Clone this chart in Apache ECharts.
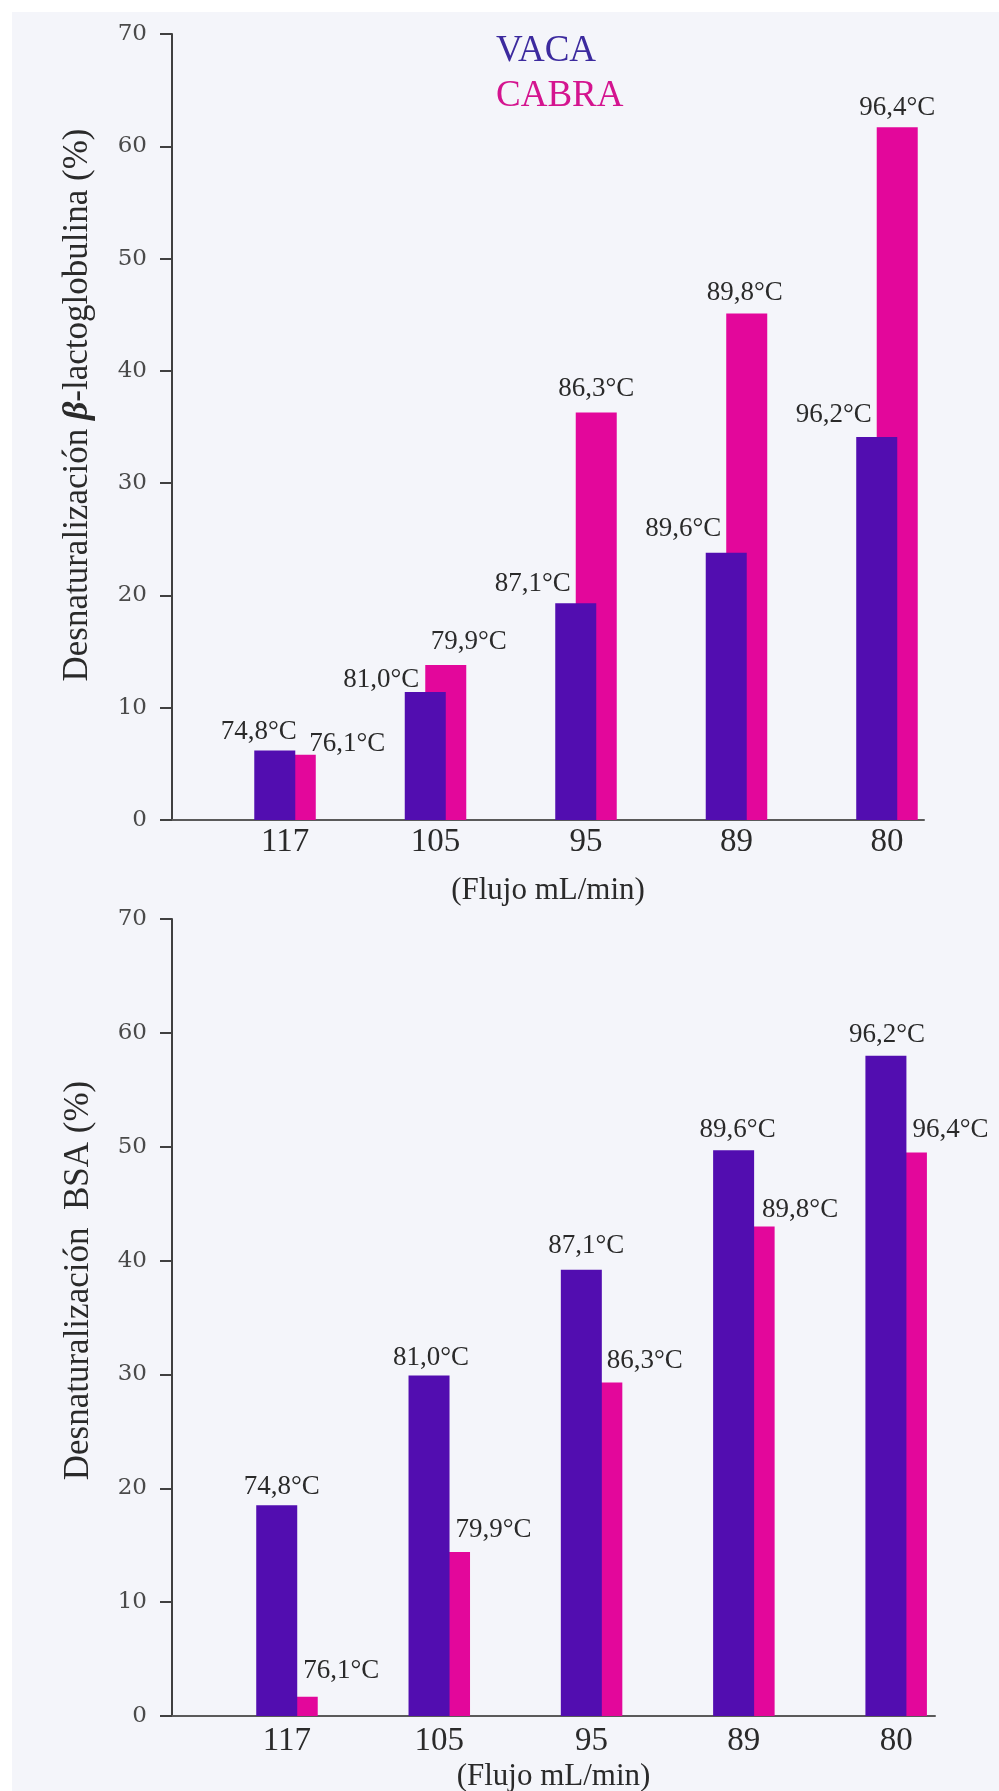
<!DOCTYPE html>
<html>
<head>
<meta charset="utf-8">
<script src="https://cdn.jsdelivr.net/npm/echarts@6/dist/echarts.min.js"></script>
<style>
  html, body { margin: 0; padding: 0; background: #ffffff; }
  #scan { position: absolute; left: 12px; top: 12px; width: 987px; height: 1779px; background: #f4f5fa; }
  #chart { position: absolute; left: 0; top: 0; width: 999px; height: 1791px; }
</style>
</head>
<body>
<div id="scan"></div>
<div id="chart"></div>
<script>
// ---- data ----
const flujo = ['117', '105', '95', '89', '80'];
const seriesNames = ['VACA', 'CABRA'];

// Desnaturalización β-lactoglobulina (%)
const vacaBLG = [6.2, 11.4, 19.3, 23.8, 34.1];
const cabraBLG = [5.8, 13.8, 36.3, 45.1, 61.7];
const tempVacaBLG = ['74,8°C', '81,0°C', '87,1°C', '89,6°C', '96,2°C'];
const tempCabraBLG = ['76,1°C', '79,9°C', '86,3°C', '89,8°C', '96,4°C'];

// Desnaturalización BSA (%)
const vacaBSA = [18.5, 29.9, 39.2, 49.7, 58.0];
const cabraBSA = [1.7, 14.4, 29.3, 43.0, 49.5];
const tempVacaBSA = ['74,8°C', '81,0°C', '87,1°C', '89,6°C', '96,2°C'];
const tempCabraBSA = ['76,1°C', '79,9°C', '86,3°C', '89,8°C', '96,4°C'];

// ---- label placement nudges (style only) ----
const nudgeVacaBLG = [[-16, 0], [-44, 6], [-43, -1], [-43, -5], [-43, -4]];
const nudgeCabraBLG = [[52, 8], [23, -5], [0, -5], [-2, -2], [0, -1]];
const nudgeVacaBSA = [[5, 0], [2, 1], [5, -5], [4, -2], [1, -2]];
const nudgeCabraBSA = [[44, -7], [44, -4], [43, -3], [46, 2], [44, -4]];

const VACA_COLOR = '#520db0';
const CABRA_COLOR = '#e3079b';
const SERIF = '"Liberation Serif", "Times New Roman", serif';
const TICKFONT = '"DejaVu Serif", serif';

function barData(values, temps, nudges) {
  return values.map((v, i) => ({
    value: [i, v],
    label: { formatter: temps[i], offset: nudges[i] }
  }));
}

function barSeries(name, color, z, gridIdx, values, temps, nudges) {
  return {
    name: name,
    type: 'bar',
    xAxisIndex: gridIdx,
    yAxisIndex: gridIdx,
    barWidth: 41,
    barGap: '-50%',
    z: z,
    itemStyle: { color: color },
    label: {
      show: true,
      position: 'top',
      distance: 5,
      color: '#2a2a2a',
      fontFamily: SERIF,
      fontSize: 27
    },
    data: barData(values, temps, nudges)
  };
}

function xAxisCfg(gridIdx, min, max, labelMargin, nameGap) {
  return {
    type: 'value',
    gridIndex: gridIdx,
    min: min,
    max: max,
    name: '(Flujo mL/min)',
    nameLocation: 'middle',
    nameGap: nameGap,
    nameTextStyle: { fontFamily: SERIF, fontSize: 31, color: '#2a2a2a' },
    axisLine: { show: true, onZero: false, lineStyle: { color: '#5a5a5a', width: 2 } },
    axisTick: { show: false },
    splitLine: { show: false },
    axisLabel: {
      customValues: flujo.map((_, i) => i),
      formatter: (v) => flujo[Math.round(v)] ?? '',
      fontFamily: SERIF,
      fontSize: 33,
      color: '#2a2a2a',
      margin: labelMargin
    }
  };
}

function yAxisCfg(gridIdx, name, padLeft) {
  return {
    type: 'value',
    gridIndex: gridIdx,
    min: 0,
    max: 70,
    interval: 10,
    name: name,
    nameLocation: 'middle',
    nameGap: 76,
    nameRotate: 90,
    nameTextStyle: {
      fontFamily: SERIF, fontSize: 35, color: '#2a2a2a',
      padding: [0, 0, 0, padLeft],
      rich: { b: { fontFamily: SERIF, fontSize: 36, fontWeight: 'bold', fontStyle: 'italic', color: '#2a2a2a' } }
    },
    axisLine: { show: true, onZero: false, lineStyle: { color: '#404040', width: 2 } },
    axisTick: { show: true, length: 12, lineStyle: { color: '#404040', width: 2 } },
    splitLine: { show: false },
    axisLabel: { fontFamily: TICKFONT, fontSize: 23, color: '#4a4a4a', margin: 25 }
  };
}

const chart = echarts.init(document.getElementById('chart'));
chart.setOption({
  backgroundColor: 'transparent',
  animation: false,
  legend: {
    orient: 'vertical',
    left: 486,
    top: 28,
    icon: 'none',
    itemWidth: 0,
    itemGap: 8,
    selectedMode: false,
    data: [
      { name: seriesNames[0], textStyle: { color: '#3c2a9e', fontFamily: SERIF, fontSize: 37 } },
      { name: seriesNames[1], textStyle: { color: '#d4148f', fontFamily: SERIF, fontSize: 37 } }
    ]
  },
  grid: [
    { left: 172, top: 34, width: 752, height: 786, outerBoundsMode: 'none' },
    { left: 172, top: 919, width: 763, height: 797, outerBoundsMode: 'none' }
  ],
  xAxis: [
    xAxisCfg(0, -0.751, 4.246, 6, 55),
    xAxisCfg(1, -0.755, 4.255, 9, 45)
  ],
  yAxis: [
    yAxisCfg(0, 'Desnaturalización {b|β}-lactoglobulina (%)', 44),
    yAxisCfg(1, 'Desnaturalización  BSA (%)', 74)
  ],
  series: [
    barSeries(seriesNames[0], VACA_COLOR, 3, 0, vacaBLG, tempVacaBLG, nudgeVacaBLG),
    barSeries(seriesNames[1], CABRA_COLOR, 2, 0, cabraBLG, tempCabraBLG, nudgeCabraBLG),
    barSeries(seriesNames[0], VACA_COLOR, 3, 1, vacaBSA, tempVacaBSA, nudgeVacaBSA),
    barSeries(seriesNames[1], CABRA_COLOR, 2, 1, cabraBSA, tempCabraBSA, nudgeCabraBSA)
  ]
});
</script>
</body>
</html>
